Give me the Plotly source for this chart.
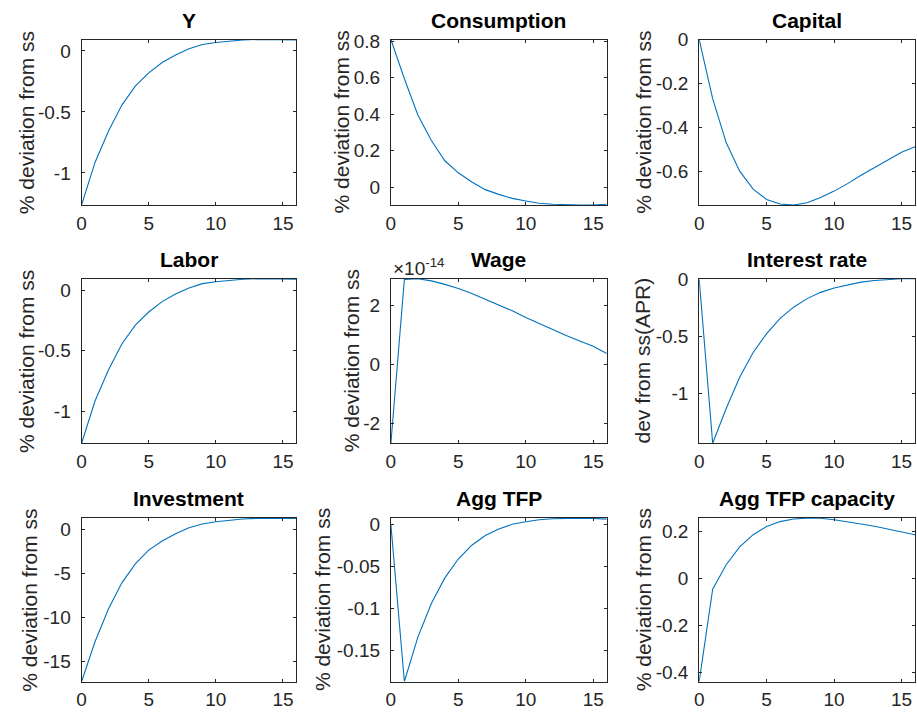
import plotly.graph_objects as go

W, H = 917, 717

# ---------------- data ----------------
periods = list(range(17))

output_y = [-1.263, -0.914, -0.659, -0.444, -0.288, -0.180, -0.094, -0.032, 0.019,
            0.054, 0.070, 0.083, 0.090, 0.094, 0.094, 0.093, 0.091]
consumption = [0.809, 0.594, 0.396, 0.256, 0.145, 0.079, 0.029, -0.013, -0.039,
               -0.061, -0.075, -0.088, -0.093, -0.097, -0.097, -0.097, -0.093]
capital = [0.0, -0.269, -0.469, -0.599, -0.681, -0.728, -0.749, -0.753, -0.743,
           -0.719, -0.690, -0.656, -0.618, -0.584, -0.548, -0.513, -0.488]
labor = [-1.263, -0.914, -0.659, -0.444, -0.288, -0.180, -0.094, -0.032, 0.019,
         0.054, 0.070, 0.083, 0.090, 0.094, 0.094, 0.093, 0.091]
wage = [-2.68e-14, 2.90e-14, 2.92e-14, 2.85e-14, 2.73e-14, 2.59e-14, 2.42e-14, 2.23e-14,
        2.03e-14, 1.83e-14, 1.60e-14, 1.39e-14, 1.18e-14, 0.99e-14, 0.80e-14, 0.62e-14, 0.38e-14]
interest_rate = [0.0, -1.438, -1.133, -0.858, -0.641, -0.475, -0.342, -0.243, -0.168,
                 -0.113, -0.075, -0.046, -0.023, -0.009, 0.0, 0.006, 0.006]
investment = [-17.3, -12.77, -9.04, -6.07, -3.91, -2.34, -1.30, -0.48, 0.19,
              0.63, 0.89, 1.08, 1.19, 1.27, 1.30, 1.30, 1.27]
agg_tfp = [0.0, -0.187, -0.134, -0.094, -0.0635, -0.041, -0.0245, -0.0129, -0.0051,
           0.0004, 0.0035, 0.0058, 0.0070, 0.0078, 0.0078, 0.0074, 0.0066]
agg_tfp_capacity = [-0.44, -0.046, 0.059, 0.135, 0.187, 0.222, 0.243, 0.254, 0.258,
                    0.257, 0.251, 0.243, 0.233, 0.223, 0.212, 0.201, 0.187]

titles = ["Y", "Consumption", "Capital", "Labor", "Wage", "Interest rate",
          "Investment", "Agg TFP", "Agg TFP capacity"]
ylabels = ["% deviation from ss"] * 5 + ["dev from ss(APR)"] + ["% deviation from ss"] * 3

x_tickvals = [0, 5, 10, 15]
x_ticktext = ["0", "5", "10", "15"]

y_tickvals = [
    [-1, -0.5, 0],
    [0, 0.2, 0.4, 0.6, 0.8],
    [-0.6, -0.4, -0.2, 0],
    [-1, -0.5, 0],
    [-2e-14, 0, 2e-14],
    [-1, -0.5, 0],
    [-15, -10, -5, 0],
    [-0.15, -0.1, -0.05, 0],
    [-0.4, -0.2, 0, 0.2],
]
y_ticktext = [
    ["-1", "-0.5", "0"],
    ["0", "0.2", "0.4", "0.6", "0.8"],
    ["-0.6", "-0.4", "-0.2", "0"],
    ["-1", "-0.5", "0"],
    ["-2", "0", "2"],
    ["-1", "-0.5", "0"],
    ["-15", "-10", "-5", "0"],
    ["-0.15", "-0.1", "-0.05", "0"],
    ["-0.4", "-0.2", "0", "0.2"],
]
wage_exponent = "×10<sup>-14</sup>"

series = [output_y, consumption, capital, labor, wage, interest_rate,
          investment, agg_tfp, agg_tfp_capacity]

# ---------------- layout (pixels) ----------------
col_px = [(77, 293), (388, 605), (698, 915)]
row_px = [(30, 198), (273, 440), (516, 682)]
ylabel_x = [21, 338, 642, 21, 348, 641, 25, 320, 642]

FONT = "Liberation Sans, Arial, Helvetica, sans-serif"
AX = "#262626"
LINE = "#0072BD"

fig = go.Figure()
annotations = []

for i, vals in enumerate(series):
    r, c = divmod(i, 3)
    k = i + 1
    xa = "x" if k == 1 else f"x{k}"
    ya = "y" if k == 1 else f"y{k}"
    fig.add_trace(go.Scatter(x=periods, y=vals, mode="lines",
                             line=dict(color=LINE, width=1.1),
                             xaxis=xa, yaxis=ya, showlegend=False,
                             hoverinfo="x+y"))
    x0, x1 = col_px[c]
    y0, y1 = row_px[r]
    common = dict(showline=True, linecolor=AX, linewidth=1, mirror="ticks",
                  ticks="inside", ticklen=3, tickcolor=AX, showgrid=False,
                  zeroline=False, tickfont=dict(family=FONT, size=19, color=AX))
    fig.layout[f"xaxis{'' if k == 1 else k}"] = dict(
        domain=[x0 / W, x1 / W], anchor=ya, range=[0, 16],
        tickvals=x_tickvals, ticktext=x_ticktext, ticklabelstandoff=1, **common)
    fig.layout[f"yaxis{'' if k == 1 else k}"] = dict(
        domain=[1 - y1 / H, 1 - y0 / H], anchor=xa,
        range=[min(vals), max(vals)],
        tickvals=y_tickvals[i], ticktext=y_ticktext[i], ticklabelstandoff=6, **common)

    # title
    annotations.append(dict(text=f"<b>{titles[i]}</b>", xref="paper", yref="paper",
                            x=(x0 + x1) / 2 / W, y=1 - (y0 - 6) / H,
                            xanchor="center", yanchor="bottom", showarrow=False,
                            font=dict(family=FONT, size=21, color="black")))
    # y label
    annotations.append(dict(text=ylabels[i], xref="paper", yref="paper",
                            x=ylabel_x[i] / W, y=1 - (y0 + y1) / 2 / H,
                            xanchor="center", yanchor="middle", textangle=-90,
                            showarrow=False,
                            font=dict(family=FONT, size=21, color=AX)))

# exponent label for wage panel
annotations.append(dict(text=wage_exponent, xref="paper", yref="paper",
                        x=388 / W, y=1 - 275 / H, xanchor="left", yanchor="bottom",
                        showarrow=False, font=dict(family=FONT, size=19, color=AX)))

fig.update_layout(width=W, height=H, margin=dict(l=0, r=0, t=0, b=0),
                  paper_bgcolor="white", plot_bgcolor="white",
                  annotations=annotations, showlegend=False)

fig.write_html("out.html")
